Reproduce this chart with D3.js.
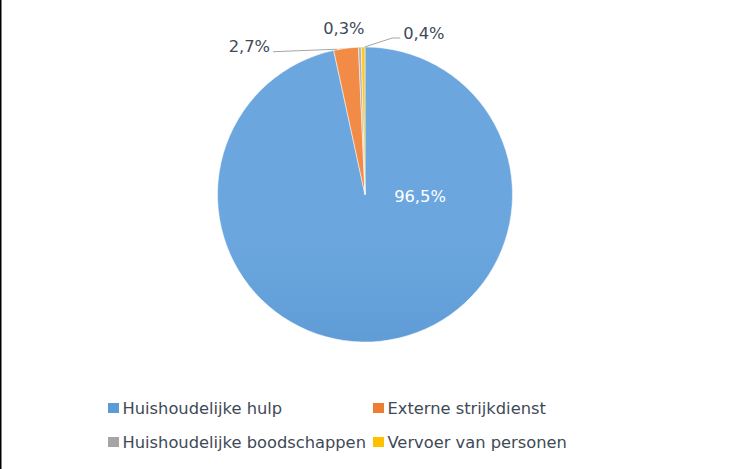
<!DOCTYPE html>
<html><head><meta charset="utf-8">
<script src="https://cdn.jsdelivr.net/npm/d3@7"></script>
<style>html,body{margin:0;padding:0;background:#fff;}svg{display:block;}</style>
</head><body>
<script>
const categories = ["Huishoudelijke hulp", "Externe strijkdienst", "Huishoudelijke boodschappen", "Vervoer van personen"];
const values = [96.5, 2.7, 0.3, 0.4];
const labels = ["96,5%", "2,7%", "0,3%", "0,4%"];
const colors = ["#5B9BD5", "#ED7D31", "#A5A5A5", "#FFC000"];
const gradTop = ["#6ba7de", "#f28b45", "#b0b0b0", "#ffc824"];
const gradBottom = ["#4a87c7", "#dc6f28", "#979797", "#f0b400"];

const W = 733, H = 469;
const cx = 365, cy = 194.5, R = 147.5;
const textColor = "#404a57";
const font = "'DejaVu Sans', Verdana, sans-serif";
const fs = 16.3;

const svg = d3.select("body").append("svg").attr("width", W).attr("height", H);
svg.append("rect").attr("width", W).attr("height", H).attr("fill", "#fff");
svg.append("line").attr("x1", 0.75).attr("x2", 0.75).attr("y1", 0).attr("y2", H)
  .attr("stroke", "#000").attr("stroke-width", 1.5);

const defs = svg.append("defs");
colors.forEach((c, i) => {
  const g = defs.append("linearGradient").attr("id", "g" + i)
    .attr("gradientUnits", "userSpaceOnUse")
    .attr("x1", 0).attr("y1", cy - R).attr("x2", 0).attr("y2", cy + R);
  g.append("stop").attr("offset", "0%").attr("stop-color", gradTop[i]);
  g.append("stop").attr("offset", "100%").attr("stop-color", gradBottom[i]);
});

const pie = d3.pie().sort(null).value(d => d)(values);
const arc = d3.arc().innerRadius(0).outerRadius(R);
const g = svg.append("g").attr("transform", `translate(${cx},${cy})`);
g.selectAll("path").data(pie).join("path")
  .attr("d", arc)
  .attr("fill", (d, i) => `url(#g${i})`)
  .attr("stroke", "#fff").attr("stroke-width", 0.5);

function edgePoint(d, r) {
  const a = (d.startAngle + d.endAngle) / 2;
  return [cx + r * Math.sin(a), cy - r * Math.cos(a)];
}

// inside label for the large slice
svg.append("text").attr("x", cx + 55).attr("y", cy + 7)
  .attr("text-anchor", "middle").attr("fill", "#fff")
  .attr("font-family", font).attr("font-size", fs).text(labels[0]);

const lineColor = "#a6a6a6";
// 2,7%
{
  const p = edgePoint(pie[1], R);
  const lx = p[0] - 73, ly = p[1] + 3.5;
  svg.append("polyline").attr("points", `${p[0] - 9},${p[1] + 1} ${lx},${ly}`)
    .attr("fill", "none").attr("stroke", lineColor).attr("stroke-width", 1);
  svg.append("text").attr("x", lx - 3).attr("y", ly + 0.5).attr("text-anchor", "end")
    .attr("fill", textColor).attr("font-family", font).attr("font-size", fs).text(labels[1]);
}
// 0,3%
{
  const p = edgePoint(pie[2], R);
  svg.append("text").attr("x", p[0] - 16).attr("y", p[1] - 12.8).attr("text-anchor", "middle")
    .attr("fill", textColor).attr("font-family", font).attr("font-size", fs).text(labels[2]);
}
// 0,4%
{
  const p = edgePoint(pie[3], R);
  svg.append("polyline")
    .attr("points", `${p[0] + 1.5},${p[1]} ${p[0] + 29},${p[1] - 9} ${p[0] + 37},${p[1] - 9}`)
    .attr("fill", "none").attr("stroke", lineColor).attr("stroke-width", 1);
  svg.append("text").attr("x", p[0] + 40).attr("y", p[1] - 8).attr("text-anchor", "start")
    .attr("fill", textColor).attr("font-family", font).attr("font-size", fs).text(labels[3]);
}

// legend
const legendX = [108, 373], legendY = [414, 448];
const lg = svg.append("g");
categories.forEach((c, i) => {
  const x = legendX[i % 2], y = legendY[Math.floor(i / 2)];
  lg.append("rect").attr("x", x).attr("y", y - 11).attr("width", 11).attr("height", 10)
    .attr("fill", colors[i]);
  lg.append("text").attr("x", x + 14.5).attr("y", y)
    .attr("fill", textColor).attr("font-family", font).attr("font-size", fs).text(c);
});
</script>
</body></html>
